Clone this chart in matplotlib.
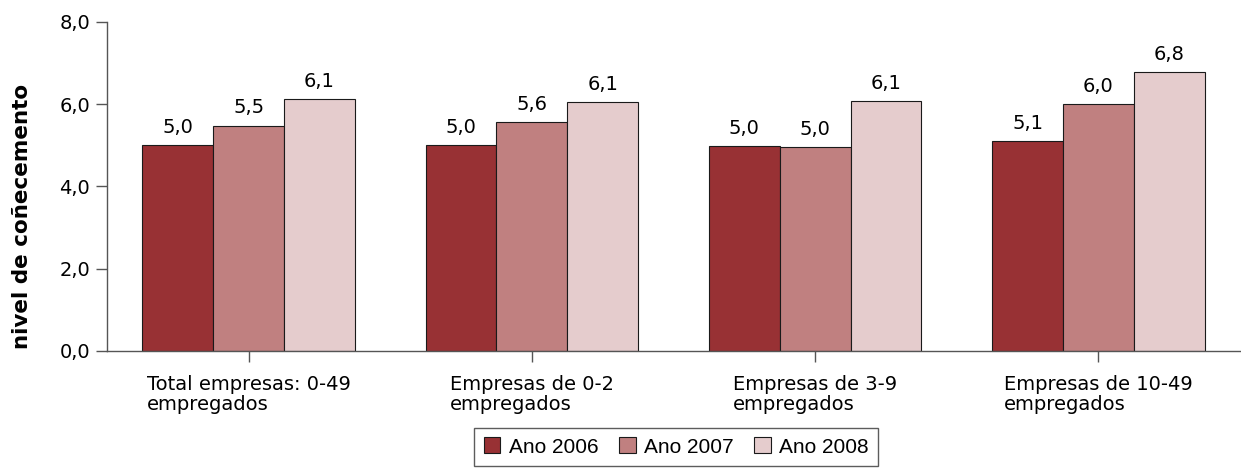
import matplotlib
matplotlib.use("Agg")
import matplotlib.pyplot as plt
import numpy as np

categories = ["Total empresas: 0-49\nempregados", "Empresas de 0-2\nempregados",
              "Empresas de 3-9\nempregados", "Empresas de 10-49\nempregados"]
series_names = ["Ano 2006", "Ano 2007", "Ano 2008"]
v2006 = [5.01, 5.0, 4.99, 5.11]
v2007 = [5.48, 5.57, 4.95, 6.01]
v2008 = [6.12, 6.06, 6.08, 6.78]
yticks = [0, 2, 4, 6, 8]
colors = ["#983134", "#C08080", "#E5CCCD"]

plt.rcParams['font.family'] = ['DejaVu Sans']
fig = plt.figure(figsize=(12.41, 4.69), dpi=100)
ax = fig.add_axes([0.0862, 0.2516, 0.913, 0.7015])

x = np.arange(len(categories))
w = 0.25
handles = []
for i, (vals, name, c) in enumerate(zip([v2006, v2007, v2008], series_names, colors)):
    b = ax.bar(x + (i - 1) * w, vals, w, color=c, edgecolor="#1a1a1a", linewidth=0.8, label=name)
    handles.append(b)
    for xi, v in zip(x + (i - 1) * w, vals):
        ax.text(xi, v + 0.2, f"{v:.1f}".replace(".", ","), ha="center", va="bottom", fontsize=14)

ax.set_xlim(-0.5, 3.5)
ax.set_ylim(0, 8)
ax.set_yticks(yticks)
ax.set_yticklabels([f"{t:.1f}".replace(".", ",") for t in yticks], fontsize=14)
ax.set_xticks(x)
ax.set_xticklabels(categories, fontsize=14, ha="center", multialignment="left", linespacing=1.12)
ax.tick_params(axis="y", length=8, color="#555555", width=1, pad=4)
ax.tick_params(axis="x", length=8, color="#555555", width=1, pad=9)
for s in ["top", "right"]:
    ax.spines[s].set_visible(False)
for s in ["left", "bottom"]:
    ax.spines[s].set_color("#555555")
    ax.spines[s].set_linewidth(1)

ax.set_ylabel("nivel de coñecemento", fontsize=15.5, fontweight="bold")
ax.yaxis.set_label_coords(-0.066, 0.41)

leg = fig.legend(handles=handles, labels=series_names, loc="lower center",
                 bbox_to_anchor=(0.545, 0.0), ncol=3, frameon=True, fancybox=False,
                 prop={"family": "Liberation Sans", "size": 15},
                 handlelength=0.8, handleheight=0.8, handletextpad=0.4, columnspacing=1.0,
                 borderpad=0.45, borderaxespad=0.15, edgecolor="#333333")
leg.get_frame().set_linewidth(1)

fig.savefig("out.png", dpi=100)
